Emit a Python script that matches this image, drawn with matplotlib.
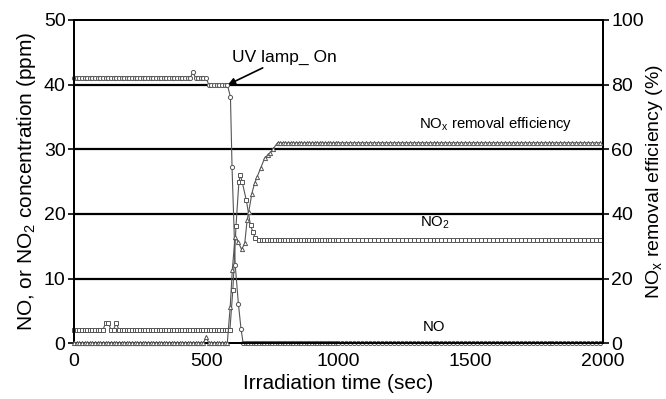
import numpy as np
import matplotlib
matplotlib.use("Agg")
import matplotlib.pyplot as plt

plt.rcParams['font.family'] = ['Liberation Sans', 'DejaVu Sans']
plt.rcParams['mathtext.default'] = 'regular'

# sampling grid (sec): dense before 1000 s, coarser afterwards
t_early = np.arange(0, 1000, 10)
t_late = np.arange(1000, 2001, 15)

# NO (ppm): plateau levels and the drop after the lamp is switched on
no_before = 41.0
no_before_late = 40.0     # 510-585 s
no_spike_t = [455]
no_spike_v = [42.0]
no_drop_t = [592, 598, 610, 622, 632]
no_drop_v = [38.1, 27.2, 12.1, 6.1, 2.2]
no_after = 0.0

# NO2 (ppm)
no2_before = 2.1
no2_spike_t = [120, 130, 160]
no2_spike_v = [3.1, 3.1, 3.1]
no2_peak_t = [590, 601, 613, 624, 630, 636, 652, 668, 677, 686]
no2_peak_v = [2.1, 8.2, 18.1, 25.0, 26.0, 25.0, 22.1, 18.2, 17.2, 16.2]
no2_after = 16.0

# NOx removal efficiency (%)
eff_before = 0.0
eff_spike_t = [500]
eff_spike_v = [2.0]
eff_rise_t = [591, 599, 609, 621, 634, 646, 655, 661, 673, 683, 693, 706, 721, 733, 741, 754]
eff_rise_v = [11.2, 22.6, 32.7, 31.4, 29.0, 30.9, 38.0, 40.6, 46.3, 49.4, 51.5, 54.1,
              57.2, 58.2, 58.7, 60.2]
eff_after = 62.0


def build(v_lo, v_hi, mid_t, mid_v, t_switch_lo, t_switch_hi, spikes_t, spikes_v):
    t_all = np.concatenate([t_early, t_late]).astype(float)
    keep_lo = t_all < t_switch_lo
    keep_hi = t_all > t_switch_hi
    t = np.concatenate([t_all[keep_lo], mid_t, t_all[keep_hi]])
    v = np.concatenate([np.full(keep_lo.sum(), v_lo), mid_v, np.full(keep_hi.sum(), v_hi)])
    for st, sv in zip(spikes_t, spikes_v):
        v[np.argmin(np.abs(t - st))] = sv
    return t, v


# NO: 41 until ~505 s, then 40 until lamp on
no_t, no_v = build(no_before, no_after, no_drop_t, no_drop_v, 588, 636,
                   no_spike_t, no_spike_v)
no_v[(no_t > 505) & (no_t < 588)] = no_before_late

no2_t, no2_v = build(no2_before, no2_after, no2_peak_t, no2_peak_v, 588, 690,
                     no2_spike_t, no2_spike_v)
eff_t, eff_v = build(eff_before, eff_after, eff_rise_t, eff_rise_v, 588, 760,
                     eff_spike_t, eff_spike_v)

fig = plt.figure(figsize=(6.66, 3.99), dpi=100)
ax = fig.add_axes([0.111, 0.14, 0.794, 0.81])
ax2 = ax.twinx()

for y in [10, 20, 30, 40]:
    ax.axhline(y, color='black', lw=1.6, zorder=1)

mk = dict(markerfacecolor='white', markeredgecolor='#555555', markeredgewidth=0.7,
          color='#555555', lw=0.8, markersize=3.0, clip_on=False)
ax.plot(no2_t, no2_v, marker='s', zorder=3, **mk)
ax.plot(no_t, no_v, marker='o', zorder=4, **mk)
ax2.plot(eff_t, eff_v, marker='^', zorder=3, **mk)

ax.set_xlim(0, 2000)
ax.set_ylim(0, 50)
ax2.set_ylim(0, 100)
ax.set_xticks([0, 500, 1000, 1500, 2000])
ax.set_yticks([0, 10, 20, 30, 40, 50])
ax2.set_yticks([0, 20, 40, 60, 80, 100])

for a in (ax, ax2):
    for s in a.spines.values():
        s.set_linewidth(1.4)
    a.tick_params(axis='y', direction='out', length=4, width=1.2, labelsize=14, pad=2)
    a.tick_params(axis='x', length=0, labelsize=14, pad=7)

ax.set_xlabel('Irradiation time (sec)', fontsize=15, labelpad=3)
ax.set_ylabel('NO, or NO$_2$ concentration (ppm)', fontsize=15, labelpad=4)
ax2.set_ylabel('NO$_x$ removal efficiency (%)', fontsize=14, labelpad=0)

ax.annotate('UV lamp_ On', xy=(583, 40.0), xytext=(597, 43.5), fontsize=12.5,
            arrowprops=dict(arrowstyle='-|>', color='black', lw=1.2, mutation_scale=10,
                            shrinkA=0, shrinkB=0),
            ha='left', va='baseline', zorder=6)
ax.text(1304, 33.3, 'NO$_x$ removal efficiency', fontsize=10.7, va='baseline')
ax.text(1308, 18.1, 'NO$_2$', fontsize=10.7, va='baseline')
ax.text(1318, 1.9, 'NO', fontsize=10.7, va='baseline')

fig.savefig('out.png', dpi=100)
